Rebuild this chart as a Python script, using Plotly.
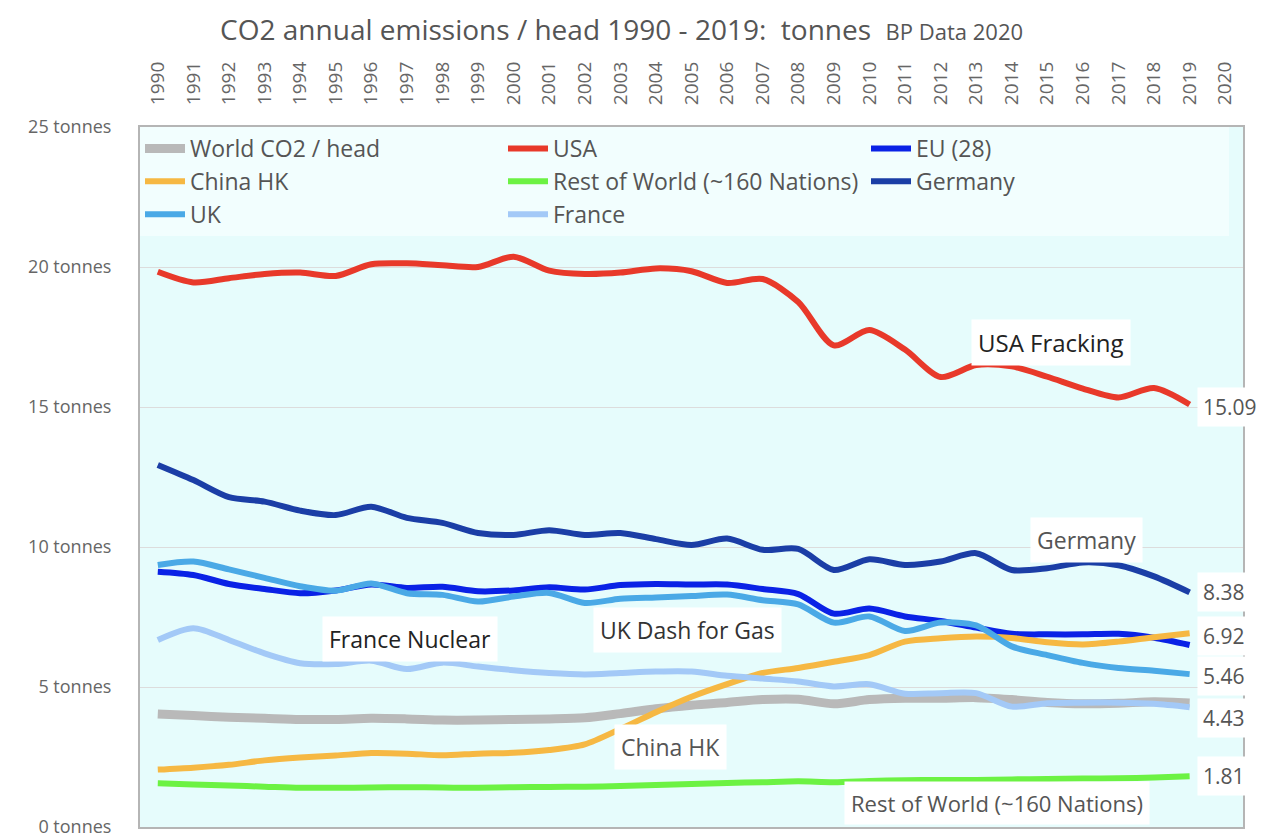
import plotly.graph_objects as go

years = list(range(1990, 2020))
tick_years = list(range(1990, 2021))

world = [4.04, 3.98, 3.92, 3.88, 3.84, 3.84, 3.88, 3.86, 3.82, 3.82, 3.84, 3.86, 3.90, 4.05, 4.22,
         4.35, 4.45, 4.55, 4.56, 4.40, 4.55, 4.60, 4.60, 4.62, 4.55, 4.45, 4.40, 4.42, 4.47, 4.43]
usa = [19.83, 19.45, 19.60, 19.75, 19.80, 19.68, 20.10, 20.13, 20.06, 20.00, 20.37, 19.87, 19.75, 19.80, 19.95,
       19.85, 19.43, 19.57, 18.75, 17.20, 17.75, 17.05, 16.07, 16.50, 16.45, 16.08, 15.66, 15.34, 15.68, 15.09]
eu28 = [9.12, 9.00, 8.68, 8.50, 8.35, 8.45, 8.66, 8.54, 8.58, 8.42, 8.45, 8.56, 8.48, 8.64, 8.68,
        8.66, 8.66, 8.50, 8.32, 7.62, 7.80, 7.52, 7.36, 7.12, 6.90, 6.88, 6.88, 6.90, 6.76, 6.50]
china = [2.05, 2.12, 2.22, 2.38, 2.48, 2.55, 2.64, 2.62, 2.56, 2.62, 2.65, 2.75, 2.95, 3.50, 4.10,
         4.65, 5.10, 5.50, 5.68, 5.90, 6.14, 6.62, 6.74, 6.80, 6.75, 6.60, 6.52, 6.62, 6.78, 6.92]
rest_world = [1.56, 1.52, 1.48, 1.44, 1.40, 1.40, 1.41, 1.42, 1.41, 1.40, 1.42, 1.43, 1.44, 1.46, 1.50,
              1.54, 1.57, 1.60, 1.63, 1.60, 1.64, 1.67, 1.68, 1.68, 1.70, 1.71, 1.73, 1.74, 1.77, 1.81]
germany = [12.93, 12.39, 11.78, 11.62, 11.30, 11.14, 11.44, 11.04, 10.86, 10.50, 10.43, 10.60, 10.43, 10.50, 10.28,
           10.07, 10.30, 9.90, 9.93, 9.18, 9.56, 9.36, 9.48, 9.78, 9.18, 9.24, 9.45, 9.35, 8.95, 8.38]
uk = [9.36, 9.48, 9.20, 8.90, 8.60, 8.44, 8.70, 8.35, 8.29, 8.05, 8.23, 8.36, 8.00, 8.15, 8.20,
      8.25, 8.30, 8.10, 7.95, 7.30, 7.52, 7.00, 7.30, 7.20, 6.45, 6.14, 5.86, 5.68, 5.58, 5.46]
france = [6.68, 7.10, 6.68, 6.20, 5.85, 5.82, 5.94, 5.64, 5.87, 5.73, 5.60, 5.50, 5.45, 5.50, 5.55,
          5.55, 5.40, 5.30, 5.20, 5.02, 5.10, 4.76, 4.78, 4.78, 4.30, 4.42, 4.44, 4.44, 4.40, 4.28]

series_names = ["World CO2 / head", "USA", "EU (28)", "China HK", "Rest of World (~160 Nations)",
                "Germany", "UK", "France"]
series_values = [world, usa, eu28, china, rest_world, germany, uk, france]
series_colors = ["#b9b9b9", "#e8392a", "#0a22e6", "#f6b843", "#6cf243", "#1b3ea6", "#4aa9e6", "#a3c9f7"]
series_widths = [9, 6, 6, 6, 6, 6, 6, 6]

end_labels = ["15.09", "8.38", "6.92", "5.46", "4.43", "1.81"]
end_label_values = [15.09, 8.38, 6.92, 5.46, 4.43, 1.81]
end_label_shifts = [-3, 0, -3, -2, -15, 0]

notes = ["USA Fracking", "Germany", "France Nuclear", "UK Dash for Gas", "China HK", "Rest of World (~160 Nations)"]
note_x = [2015.1, 2016.1, 1997.1, 2004.9, 2004.4, 2013.6]
note_y = [17.3, 10.25, 6.71, 7.04, 2.86, 0.86]
note_colors = ["#222222", "#555555", "#222222", "#333333", "#555555", "#555555"]
note_sizes = [24, 23, 23, 23, 23, 22]

ytick_vals = [0, 5, 10, 15, 20, 25]
ytick_text = [f"{v} tonnes" for v in ytick_vals]

FONT = "Open Sans"

fig = go.Figure()
for name, vals, col, w in zip(series_names, series_values, series_colors, series_widths):
    fig.add_trace(go.Scatter(x=years, y=vals, name=name, mode="lines",
                             line=dict(color=col, width=w, shape="spline", smoothing=0.8)))

for txt, v, s in zip(end_labels, end_label_values, end_label_shifts):
    fig.add_annotation(x=2019, y=v, text=txt, showarrow=False, xanchor="left", xshift=7, yshift=s,
                       bgcolor="white", borderpad=5, font=dict(family=FONT, size=21, color="#555555"))

for txt, x, y, c, sz in zip(notes, note_x, note_y, note_colors, note_sizes):
    fig.add_annotation(x=x, y=y, text=txt, showarrow=False, bgcolor="white", borderpad=6,
                       font=dict(family=FONT, size=sz, color=c))

fig.update_layout(
    width=1273, height=837,
    margin=dict(l=132, r=38, t=119, b=18),
    paper_bgcolor="white",
    plot_bgcolor="#e6fcfc",
    font=dict(family=FONT, color="#555555"),
    title=dict(text="CO2 annual emissions / head 1990 - 2019:  tonnes  <span style='font-size:22px'>BP Data 2020</span>",
               x=0.482, xanchor="center", y=0.974, yanchor="middle",
               font=dict(family=FONT, size=28, color="#555555")),
    showlegend=True,
    legend=dict(orientation="h", x=0, y=1, xanchor="left", yanchor="top",
                bgcolor="#f2fefe", font=dict(family=FONT, size=23, color="#555555"),
                entrywidth=308, entrywidthmode="pixels", itemwidth=40, traceorder="normal"),
    xaxis=dict(range=[1989.5, 2020.5], side="top", tickmode="array", tickvals=tick_years,
               ticktext=[str(y) for y in tick_years], tickangle=-90, showgrid=False, automargin=False,
               tickfont=dict(family=FONT, size=19, color="#666666"), ticks="", ticklabelstandoff=16,
               showline=True, mirror=True, linecolor="#b5b5b5", linewidth=2, zeroline=False),
    yaxis=dict(range=[0, 25], tickmode="array", tickvals=ytick_vals, ticktext=ytick_text,
               showgrid=True, gridcolor="#dcdcdc", gridwidth=1, automargin=False,
               tickfont=dict(family=FONT, size=18, color="#666666"), ticks="", ticklabelstandoff=23,
               showline=True, mirror=True, linecolor="#b5b5b5", linewidth=2, zeroline=False),
)

fig.write_html("out.html")
